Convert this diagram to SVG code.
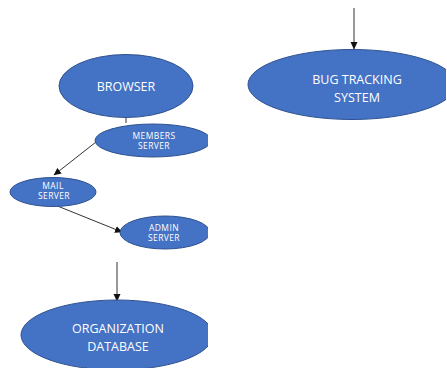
<svg xmlns="http://www.w3.org/2000/svg" width="447" height="368" viewBox="0 0 447 368">
<style>
.n{fill:#4472C4;stroke:#2F528F;stroke-width:1}
.t{fill:#fff;font-family:"Open Sans","Liberation Sans",sans-serif;text-anchor:middle}
.big{font-size:12.5px}
.sm{font-size:8.5px;letter-spacing:0.4px}
.c line{stroke:#333;stroke-width:1}
</style>
<defs>
<marker id="ah" markerWidth="8" markerHeight="8" refX="7" refY="4" orient="auto" markerUnits="userSpaceOnUse">
<path d="M0,0.5 L7.5,4 L0,7.5 Z" fill="#111"/>
</marker>
<clipPath id="cl"><rect x="0" y="0" width="208" height="368"/></clipPath>
<clipPath id="cr"><rect x="0" y="0" width="446" height="368"/></clipPath>
</defs>
<rect width="447" height="368" fill="#fff"/>
<g class="c">
<line x1="126" y1="118" x2="126" y2="123"/>
<line x1="96" y1="142" x2="54" y2="175" marker-end="url(#ah)"/>
<line x1="55" y1="205" x2="122" y2="232" marker-end="url(#ah)"/>
<line x1="117" y1="262" x2="117" y2="301" marker-end="url(#ah)"/>
<line x1="354" y1="8" x2="354" y2="49" marker-end="url(#ah)"/>
</g>
<g id="browser">
<ellipse class="n" cx="126" cy="86" rx="67" ry="31.5"/>
<text class="t big" x="126" y="91">BROWSER</text>
</g>
<g id="members" clip-path="url(#cl)">
<ellipse class="n" cx="153" cy="140.5" rx="58" ry="16.5"/>
<text class="t sm" x="154" y="139">MEMBERS</text>
<text class="t sm" x="154" y="149">SERVER</text>
</g>
<g id="mail">
<ellipse class="n" cx="53" cy="192" rx="43" ry="14.5"/>
<text class="t sm" x="53" y="189">MAIL</text>
<text class="t sm" x="54" y="199">SERVER</text>
</g>
<g id="admin" clip-path="url(#cl)">
<ellipse class="n" cx="165" cy="232.5" rx="45" ry="16.5"/>
<text class="t sm" x="164" y="231">ADMIN</text>
<text class="t sm" x="164" y="241">SERVER</text>
</g>
<g id="orgdb" clip-path="url(#cl)">
<ellipse class="n" cx="117" cy="335" rx="96" ry="35"/>
<text class="t big" x="118" y="333">ORGANIZATION</text>
<text class="t big" x="118" y="351">DATABASE</text>
</g>
<g id="bugtracking" clip-path="url(#cr)">
<ellipse class="n" cx="352" cy="84.5" rx="104" ry="35"/>
<text class="t big" x="357" y="84">BUG TRACKING</text>
<text class="t big" x="357" y="102">SYSTEM</text>
</g>
</svg>
